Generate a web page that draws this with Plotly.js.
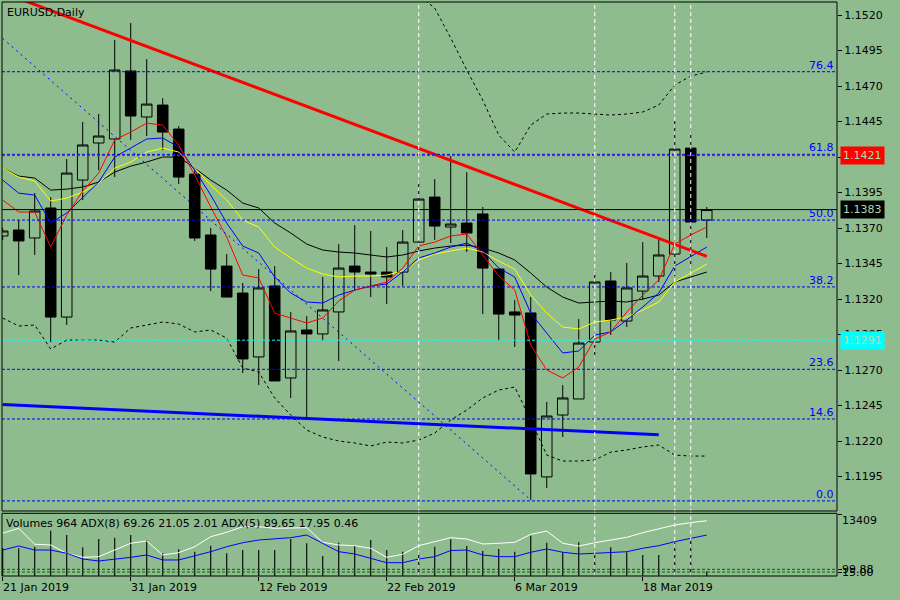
<!DOCTYPE html>
<html><head><meta charset="utf-8">
<script src="https://cdn.plot.ly/plotly-3.0.1.min.js"></script>
<style>html,body{margin:0;padding:0;background:#8fbc8f;}#chart{width:900px;height:600px;}</style>
</head><body><div id="chart"></div>
<script>
// ---- data ----
const dates = ['2019-01-21','2019-01-22','2019-01-23','2019-01-24','2019-01-25',
  '2019-01-28','2019-01-29','2019-01-30','2019-01-31','2019-02-01',
  '2019-02-04','2019-02-05','2019-02-06','2019-02-07','2019-02-08',
  '2019-02-11','2019-02-12','2019-02-13','2019-02-14','2019-02-15',
  '2019-02-18','2019-02-19','2019-02-20','2019-02-21','2019-02-22',
  '2019-02-25','2019-02-26','2019-02-27','2019-02-28','2019-03-01',
  '2019-03-04','2019-03-05','2019-03-06','2019-03-07','2019-03-08',
  '2019-03-11','2019-03-12','2019-03-13','2019-03-14','2019-03-15',
  '2019-03-18','2019-03-19','2019-03-20','2019-03-21','2019-03-22'];
const openP = [1.13644,1.13686,1.13630,1.13841,1.13073,1.14038,1.14299,1.14327,1.14806,1.14482,1.14566,1.14397,1.14080,1.13651,1.13432,1.13242,1.12792,1.13292,1.12644,1.12982,1.12954,1.13109,1.13432,1.13390,1.13390,1.13390,1.13601,1.13918,1.13707,1.13735,1.13799,1.13411,1.13109,1.13102,1.11947,1.12383,1.12496,1.12897,1.13327,1.13045,1.13256,1.13362,1.13517,1.14263,1.13756];
const highP = [1.13700,1.13756,1.13946,1.13918,1.14186,1.14447,1.14503,1.15024,1.15144,1.14890,1.14615,1.14418,1.14108,1.13700,1.13517,1.13313,1.13411,1.13432,1.13109,1.13080,1.13355,1.13587,1.13721,1.13679,1.13566,1.13686,1.14038,1.14045,1.14207,1.14094,1.13848,1.13411,1.13193,1.13214,1.12475,1.12594,1.13059,1.13390,1.13390,1.13454,1.13601,1.13623,1.14454,1.14383,1.13848];
const lowP = [1.13616,1.13369,1.13510,1.12897,1.13017,1.13897,1.14108,1.14059,1.14320,1.14348,1.14249,1.14010,1.13609,1.13256,1.13214,1.12679,1.12594,1.12623,1.12503,1.12362,1.12904,1.12763,1.13263,1.13214,1.13165,1.13292,1.13545,1.13616,1.13594,1.13531,1.13094,1.12904,1.12862,1.11785,1.11869,1.12228,1.12496,1.12778,1.12947,1.13003,1.13193,1.13320,1.13362,1.13425,1.13630];
const closeP = [1.13679,1.13609,1.13820,1.13073,1.14087,1.14285,1.14348,1.14813,1.14489,1.14573,1.14376,1.14059,1.13630,1.13411,1.13214,1.12778,1.13278,1.12623,1.12975,1.12954,1.13123,1.13418,1.13390,1.13376,1.13355,1.13601,1.13904,1.13714,1.13728,1.13665,1.13418,1.13094,1.13087,1.11968,1.12376,1.12503,1.12890,1.13320,1.13052,1.13278,1.13362,1.13510,1.14256,1.13742,1.13830];

const maRed = [1.13897,1.13813,1.13813,1.13566,1.13791,1.13960,1.14087,1.14320,1.14376,1.14439,1.14425,1.14284,1.14073,1.13848,1.13636,1.13369,1.13348,1.13101,1.13066,1.13031,1.13066,1.13186,1.13263,1.13291,1.13320,1.13418,1.13573,1.13601,1.13644,1.13658,1.13510,1.13362,1.13263,1.12876,1.12700,1.12644,1.12721,1.12918,1.12968,1.13108,1.13228,1.13334,1.13587,1.13651,1.13707];
const maBlue = [1.14038,1.13946,1.13932,1.13735,1.13806,1.13918,1.14024,1.14200,1.14263,1.14327,1.14334,1.14270,1.14108,1.13932,1.13735,1.13573,1.13524,1.13355,1.13242,1.13179,1.13172,1.13228,1.13263,1.13291,1.13306,1.13390,1.13489,1.13524,1.13566,1.13594,1.13538,1.13418,1.13355,1.13101,1.12960,1.12820,1.12834,1.12946,1.12968,1.13052,1.13144,1.13242,1.13432,1.13496,1.13566];
const maYellow = [1.14122,1.14059,1.14031,1.13890,1.13911,1.13953,1.14017,1.14122,1.14165,1.14235,1.14263,1.14235,1.14122,1.14003,1.13897,1.13756,1.13707,1.13566,1.13489,1.13418,1.13376,1.13355,1.13362,1.13362,1.13369,1.13397,1.13475,1.13517,1.13538,1.13559,1.13531,1.13467,1.13411,1.13228,1.13101,1.13003,1.12989,1.13038,1.13052,1.13073,1.13122,1.13179,1.13320,1.13383,1.13446];
const maBlack = [1.14122,1.14066,1.14052,1.13967,1.13974,1.13989,1.14024,1.14094,1.14136,1.14165,1.14200,1.14200,1.14122,1.14038,1.13967,1.13876,1.13841,1.13735,1.13665,1.13587,1.13545,1.13531,1.13524,1.13510,1.13496,1.13510,1.13538,1.13559,1.13573,1.13580,1.13559,1.13524,1.13475,1.13383,1.13284,1.13214,1.13172,1.13179,1.13186,1.13179,1.13200,1.13228,1.13320,1.13355,1.13390];
const bbUpper = [null,null,null,null,null,null,null,null,null,null,null,null,null,null,null,null,null,null,null,null,null,null,null,null,1.15869,1.15587,1.15341,1.15249,1.15038,1.14813,1.14601,1.14355,1.14235,1.14425,1.14503,1.14510,1.14510,1.14503,1.14496,1.14503,1.14517,1.14566,1.14707,1.14770,1.14799];
const bbLower = [1.13066,1.13010,1.13017,1.12848,1.12911,1.12911,1.12911,1.12897,1.12996,1.13017,1.13038,1.13024,1.12968,1.12982,1.12925,1.12714,1.12686,1.12503,1.12383,1.12277,1.12228,1.12200,1.12186,1.12165,1.12193,1.12186,1.12207,1.12256,1.12348,1.12418,1.12503,1.12559,1.12580,1.12348,1.12101,1.12059,1.12059,1.12066,1.12122,1.12137,1.12158,1.12172,1.12101,1.12094,1.12094];

const volumes = [6000,5992,6338,9798,8868,6208,8003,8284,8868,7787,4910,5775,5256,6554,4910,5624,5624,5624,8003,7073,4326,7203,6554,7787,5624,5256,5191,6338,7938,6489,5408,5840,5256,8717,7203,5126,7289,5256,6208,5126,4542,4542,7203,8003,964];
const adx5 = [71.8,78.9,56.1,55.1,43.2,37.5,38.4,47.9,57.5,60.8,40.8,44.1,52.6,66.9,73.2,81.2,81.2,78.9,78.9,79.7,58.9,55.1,54.1,50.4,37.5,41.8,54.1,59.8,65.5,63.6,56.5,57.5,58.9,70.3,75.0,57.5,53.6,58.3,62.2,66.0,72.6,77.9,83.6,86.9,89.65];
const adx8 = [47.9,53.6,47.9,47.9,43.2,35.1,32.2,34.7,37.5,40.8,33.7,33.7,39.4,45.5,52.6,58.3,62.2,63.6,65.5,69.3,57.5,45.5,42.2,36.1,29.8,29.8,35.1,38.4,47.2,47.9,40.8,38.4,38.4,44.7,49.4,44.7,42.2,43.2,44.7,45.5,50.4,54.1,59.8,64.6,69.26];
const adxLevels = [16.5, 20.4];
const adxLevelLabels = ['15.00', '99.88'];

const fibPrices = [1.11778,1.12355,1.12705,1.13285,1.13756,1.14219,1.14801];
const fibLabels = ['0.0','14.6','23.6','38.2','50.0','61.8','76.4'];
const bidPrice = 1.1383, redLevel = 1.1421, cyanLevel = 1.1291;

const redTrendDates = ['2019-01-21','2019-03-22'];
const redTrendPrices = [1.15359,1.13501];
const blueTrendDates = ['2019-01-21','2019-03-19'];
const blueTrendPrices = [1.12457,1.12244];
const fibLineDates = ['2019-01-21','2019-03-07'];
const fibLinePrices = [1.15035,1.11785];
const vlineDates = ['2019-02-26','2019-03-13','2019-03-20','2019-03-21'];

const priceTicks = [1.1195,1.1220,1.1245,1.1270,1.1295,1.1320,1.1345,1.1370,1.1395,1.1420,1.1445,1.1470,1.1495,1.1520];
const priceTickText = ['1.1195','1.1220','1.1245','1.1270','1.1295','1.1320','1.1345','1.1370','1.1395','','1.1445','1.1470','1.1495','1.1520'];
const tickDates = ['2019-01-21','2019-01-31','2019-02-12','2019-02-22','2019-03-06','2019-03-18'];
const tickLabels = ['21 Jan 2019','31 Jan 2019','12 Feb 2019','22 Feb 2019','6 Mar 2019','18 Mar 2019'];
const volTop = 13409;
const infoText = 'Volumes 964 ADX(8) 69.26 21.05 2.01 ADX(5) 89.65 17.95 0.46';

// ---- build ----
const BG = '#8fbc8f';
const pos = d => dates.indexOf(d);
const xs = dates.map((d, i) => i);

const traces = [
  {type:'candlestick', x:xs, open:openP, high:highP, low:lowP, close:closeP,
   xaxis:'x', yaxis:'y', whiskerwidth:0, hoverinfo:'none',
   increasing:{line:{color:'#000', width:1}, fillcolor:'rgba(0,0,0,0)'},
   decreasing:{line:{color:'#000', width:1}, fillcolor:'#000'}},
  {type:'scatter', mode:'lines', x:xs, y:bbUpper, line:{color:'#000', width:1, dash:'3px,3px'}},
  {type:'scatter', mode:'lines', x:xs, y:bbLower, line:{color:'#000', width:1, dash:'3px,3px'}},
  {type:'scatter', mode:'lines', x:xs, y:maBlack, line:{color:'#000', width:1}},
  {type:'scatter', mode:'lines', x:xs, y:maYellow, line:{color:'#ffff00', width:1}},
  {type:'scatter', mode:'lines', x:xs, y:maBlue, line:{color:'#0000ff', width:1}},
  {type:'scatter', mode:'lines', x:xs, y:maRed, line:{color:'#ff0000', width:1}},
  {type:'scatter', mode:'lines', x:fibLineDates.map(pos), y:fibLinePrices, line:{color:'#0000ff', width:1, dash:'2px,4px'}},
  {type:'scatter', mode:'lines', x:redTrendDates.map(pos), y:redTrendPrices, line:{color:'#ff0000', width:3}},
  {type:'scatter', mode:'lines', x:blueTrendDates.map(pos), y:blueTrendPrices, line:{color:'#0000ff', width:3}},
  {type:'bar', x:xs, y:volumes, width:0.07, xaxis:'x', yaxis:'y2', marker:{color:'#000', line:{width:0}}},
  {type:'scatter', mode:'lines', x:xs, y:adx5, xaxis:'x', yaxis:'y3', line:{color:'#ffffff', width:1}},
  {type:'scatter', mode:'lines', x:xs, y:adx8, xaxis:'x', yaxis:'y3', line:{color:'#0000ff', width:1}}
];
traces.forEach(t => { if (!t.yaxis) { t.xaxis = 'x'; t.yaxis = 'y'; } t.hoverinfo = 'none'; });

const mainDom = [0.11324, 1], subDom = [0, 0.10923];
const shapes = [];
fibPrices.forEach(p => shapes.push({type:'line', xref:'paper', x0:0, x1:1, yref:'y', y0:p, y1:p, line:{color:'#0000ff', width:1, dash:'3px,2px'}}));
shapes.push({type:'line', xref:'paper', x0:0, x1:1, yref:'y', y0:redLevel, y1:redLevel, line:{color:'#ff0000', width:1, dash:'3px,2px'}});
shapes.push({type:'line', xref:'paper', x0:0, x1:1, yref:'y', y0:cyanLevel, y1:cyanLevel, line:{color:'#00ffff', width:1, dash:'3px,2px'}});
shapes.push({type:'line', xref:'paper', x0:0, x1:1, yref:'y', y0:bidPrice, y1:bidPrice, line:{color:'#000', width:1}});
adxLevels.forEach(v => shapes.push({type:'line', xref:'paper', x0:0, x1:1, yref:'y3', y0:v, y1:v, line:{color:'#006400', width:1, dash:'3px,2px'}}));
vlineDates.forEach(d => shapes.push({type:'line', xref:'x', x0:pos(d), x1:pos(d), yref:'paper', y0:0, y1:1, line:{color:'#ffffff', width:1, dash:'4px,3px'}}));
shapes.push({type:'rect', xref:'paper', yref:'paper', x0:0, x1:1, y0:mainDom[0], y1:mainDom[1], line:{color:'#000', width:1}});
shapes.push({type:'rect', xref:'paper', yref:'paper', x0:0, x1:1, y0:subDom[0], y1:subDom[1], line:{color:'#000', width:1}});

const annotations = [];
annotations.push({xref:'paper', yref:'paper', x:0, y:1, xanchor:'left', yanchor:'top', xshift:3, yshift:-2, text:'EURUSD,Daily', showarrow:false});
annotations.push({xref:'paper', yref:'paper', x:0, y:subDom[1], xanchor:'left', yanchor:'top', xshift:2, yshift:-2, text:infoText, showarrow:false});
fibPrices.forEach((p, i) => annotations.push({xref:'paper', yref:'y', x:1, y:p, xanchor:'right', yanchor:'bottom', xshift:-1, yshift:-2, text:fibLabels[i], showarrow:false, font:{color:'#0000ff', size:11}}));
const box = (p, bg, txt) => ({xref:'paper', yref:'y', x:1, y:p, xanchor:'left', yanchor:'middle', xshift:3, text:txt, showarrow:false, bgcolor:bg, borderpad:2, font:{color:'#b8d8b2', size:11}});
annotations.push(box(redLevel, '#ff0000', redLevel.toFixed(4)));
annotations.push(box(bidPrice, '#000000', bidPrice.toFixed(4)));
annotations.push(box(cyanLevel, '#00ffff', cyanLevel.toFixed(4)));
annotations.push({xref:'paper', yref:'y2', x:1, y:volTop, xanchor:'left', yanchor:'middle', xshift:3, yshift:-6, text:String(volTop), showarrow:false});
adxLevels.forEach((v, i) => annotations.push({xref:'paper', yref:'y3', x:1, y:v, xanchor:'left', yanchor:'middle', xshift:3, text:adxLevelLabels[i], showarrow:false}));
tickDates.forEach((d, i) => annotations.push({xref:'x', yref:'paper', x:pos(d), y:0, xanchor:'left', yanchor:'top', xshift:-2, yshift:-3, text:tickLabels[i], showarrow:false}));

const layout = {
  width:900, height:600, margin:{l:2, r:63, t:2, b:24},
  paper_bgcolor:BG, plot_bgcolor:BG, showlegend:false,
  font:{family:'DejaVu Sans', size:11, color:'#000'},
  boxgap:0.34, boxgroupgap:0,
  xaxis:{range:[-0.044, 52.14], anchor:'y2', tickvals:tickDates.map(pos), ticks:'outside', ticklen:4, tickcolor:'#000',
         showticklabels:false, showgrid:false, zeroline:false, showline:false, rangeslider:{visible:false}},
  yaxis:{domain:mainDom, range:[1.11707, 1.15292], side:'right', anchor:'x', tickvals:priceTicks, ticktext:priceTickText,
         ticks:'outside', ticklen:4, tickcolor:'#000', showgrid:false, zeroline:false, showline:false},
  yaxis2:{domain:subDom, range:[0, 13562], side:'right', anchor:'x', tickvals:[volTop], ticks:'outside', ticklen:4, tickcolor:'#000',
          showticklabels:false, showgrid:false, zeroline:false, showline:false},
  yaxis3:{overlaying:'y2', range:[10.84, 100.28], side:'right', anchor:'x', tickvals:adxLevels, ticks:'outside', ticklen:4, tickcolor:'#000',
          showticklabels:false, showgrid:false, zeroline:false, showline:false},
  shapes:shapes, annotations:annotations
};
Plotly.newPlot('chart', traces, layout, {staticPlot:true, displayModeBar:false});
</script></body></html>
